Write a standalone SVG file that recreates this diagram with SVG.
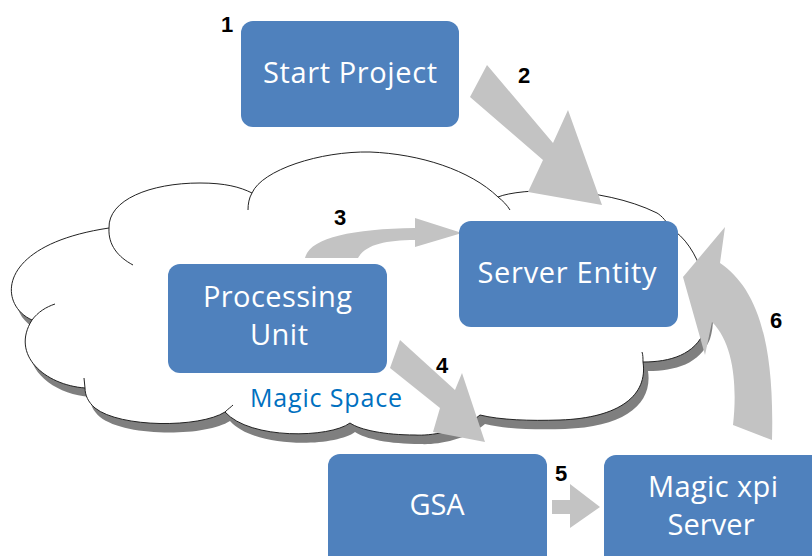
<svg xmlns="http://www.w3.org/2000/svg" width="812" height="556" viewBox="0 0 812 556">
<style>
.box{fill:#4F81BD;}
.bt{font-family:"Open Sans","Liberation Sans",sans-serif;font-size:29px;fill:#FFFFFF;text-anchor:middle;}
.num{font-family:"Liberation Sans",Arial,sans-serif;font-size:22px;font-weight:bold;fill:#000000;text-anchor:middle;}
.arr{fill:#C3C3C3;}
.tail{fill:none;stroke:#222222;stroke-width:1;}
</style>
<defs>
<path id="cloudPath" d="M32,320 C-2,305 -5,245 109,228 C108,200 150,183 200,183 C225,183 240,187 252,193 C262,170 320,151 370,152 C420,154 470,170 498,197 C520,188 600,185 657,213 C662,216 667,222 670,228 C700,245 715,300 705,330 C695,355 670,362 643,362 C648,395 620,418 560,420 C530,421 500,420 480,415 C460,432 430,436 415,435 C385,435 360,430 350,423 C330,438 250,440 225,412 C200,428 120,428 95,408 C88,402 85,395 85,388 C45,385 10,355 32,320 Z"/>
</defs>
<rect width="812" height="556" fill="#FFFFFF"/>
<g id="cloud">
<use href="#cloudPath" transform="translate(5,9)" fill="#7F7F7F"/>
<use href="#cloudPath" fill="#FFFFFF" stroke="#222222" stroke-width="1"/>
<path class="tail" d="M109,228 C108,245 118,257 133,265"/>
<path class="tail" d="M252,193 C249,198 248,204 248,210"/>
<path class="tail" d="M32,320 C38,312 46,307 55,304"/>
<path class="tail" d="M498,197 C503,201 507,205 510,210"/>
<path class="tail" d="M643,362 C643,358 643,355 642,352"/>
<path class="tail" d="M225,412 C228,409 231,407 233,405"/>
<path class="tail" d="M85,388 L84,378"/>
</g>
<g id="connectors">
<path id="arrow2" class="arr" d="M487,65 L553,143 L568,110 L602,205 L528,192 L543,160 L470,97 Z"/>
<path id="arrow3" class="arr" d="M305,258 C310,238 350,229 415,228 L415,218 L462,233 L415,247 L415,240 C385,240 365,245 358,258 Z"/>
<path id="arrow4" class="arr" d="M400,340 L455,390 L462,373 L485,442 L433,432 L440,408 L390,368 Z"/>
<path id="arrow5" class="arr" d="M552,500 L570,500 L570,484 L600,507 L570,528 L570,514 L552,514 Z"/>
<path id="arrow6" class="arr" d="M733,425 C737,390 735,345 712,322 L705,355 L683,277 L725,227 L720,263 C752,285 775,330 772,440 Z"/>
</g>
<g id="labels">
<text class="num" x="227" y="32">1</text>
<text class="num" x="524" y="83">2</text>
<text class="num" x="340" y="225">3</text>
<text class="num" x="442" y="373">4</text>
<text class="num" x="561" y="481">5</text>
<text class="num" x="776" y="328">6</text>
</g>
<g id="start-project">
<rect class="box" x="241" y="21" width="218" height="106" rx="12"/>
<text class="bt" x="350" y="83" textLength="174">Start Project</text>
</g>
<g id="processing-unit">
<rect class="box" x="168" y="264" width="219" height="109" rx="12"/>
<text class="bt" x="277.5" y="307" textLength="149">Processing</text>
<text class="bt" x="279" y="345" textLength="58">Unit</text>
</g>
<g id="server-entity">
<rect class="box" x="459" y="221" width="219" height="106" rx="12"/>
<text class="bt" x="567" y="283" textLength="179">Server Entity</text>
</g>
<g id="magic-space">
<text x="326" y="407" textLength="152" style="font-family:'Open Sans','Liberation Sans',sans-serif;font-size:25px;fill:#0070C0;text-anchor:middle;">Magic Space</text>
</g>
<g id="gsa">
<rect class="box" x="328" y="454" width="219" height="120" rx="12"/>
<text class="bt" x="437" y="515" textLength="55">GSA</text>
</g>
<g id="magic-xpi-server">
<rect class="box" x="604" y="455" width="219" height="120" rx="12"/>
<text class="bt" x="713" y="497" textLength="130">Magic xpi</text>
<text class="bt" x="711" y="535" textLength="87">Server</text>
</g>
</svg>
